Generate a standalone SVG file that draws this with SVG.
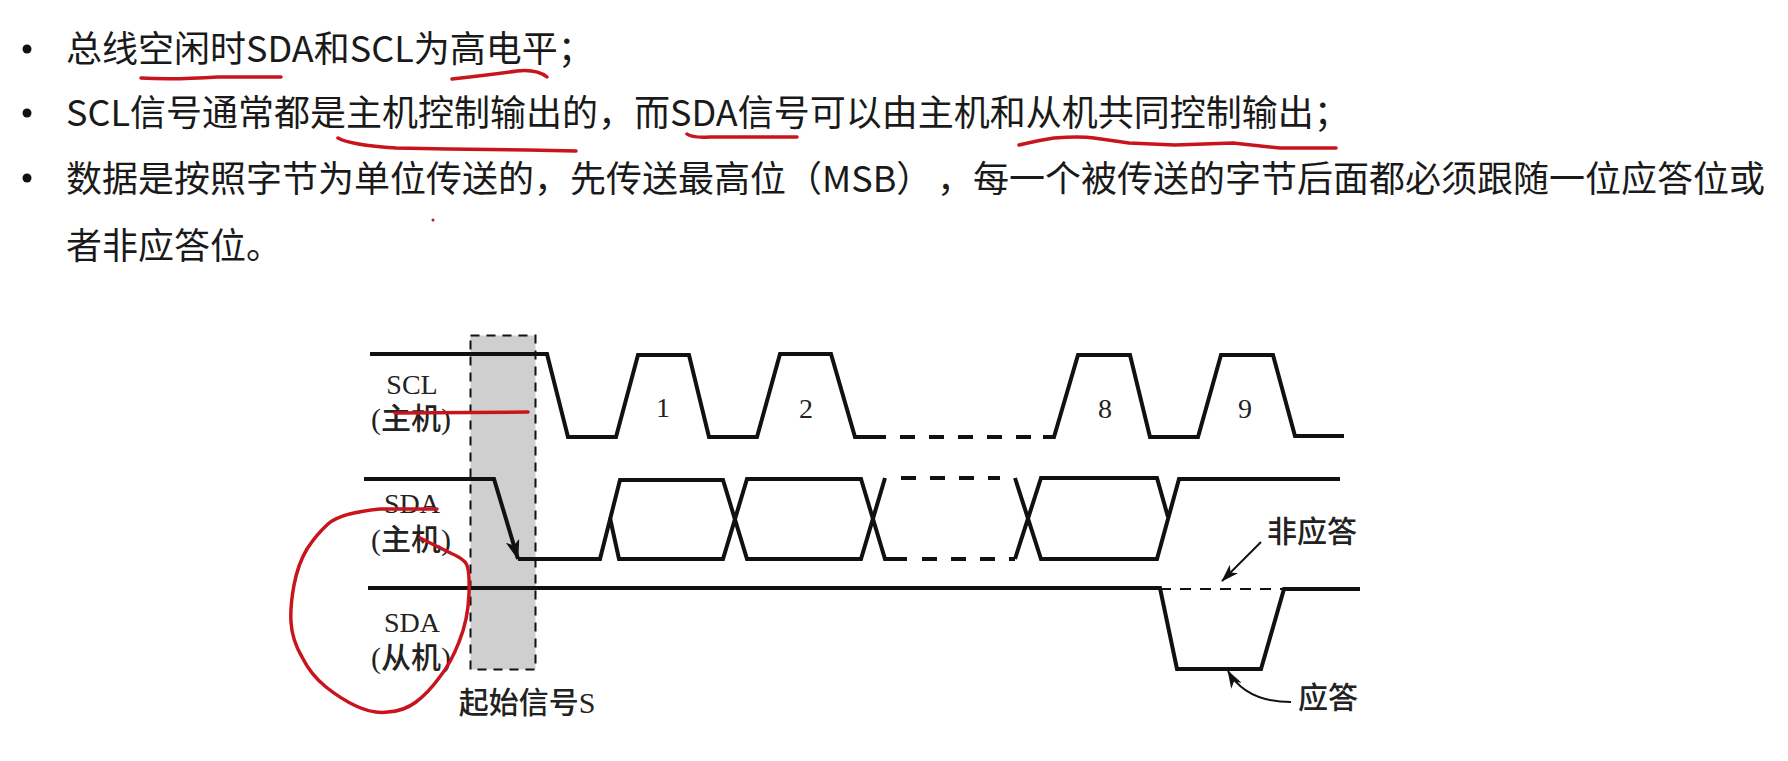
<svg xmlns="http://www.w3.org/2000/svg" width="1788" height="761" viewBox="0 0 1788 761">
<defs>
<marker id="ah" viewBox="0 0 18 12" refX="17" refY="6" markerWidth="18" markerHeight="12" markerUnits="userSpaceOnUse" orient="auto"><path d="M0,0 L18,6 L0,12 L5,6 Z" fill="#111"/></marker>
<marker id="ahb" viewBox="0 0 20 14" refX="19" refY="7" markerWidth="20" markerHeight="14" markerUnits="userSpaceOnUse" orient="auto"><path d="M0,0 L20,7 L0,14 L5,7 Z" fill="#111"/></marker>
</defs>
<style>
.t{font-family:"Noto Sans CJK SC","Noto Sans",sans-serif;font-size:36px;fill:#1a1a1a}
.d{font-family:"Liberation Serif","Noto Sans CJK SC",serif;font-size:28px;fill:#222;text-anchor:middle}
.c{font-family:"Liberation Serif","Noto Sans CJK SC",serif;font-size:30px;font-weight:500;fill:#222;text-anchor:middle}
.s{fill:none;stroke:#111;stroke-width:4;stroke-linejoin:miter}
.dash{fill:none;stroke:#111;stroke-width:4;stroke-dasharray:15 14}
.thin{fill:none;stroke:#111;stroke-width:2}
.r{fill:none;stroke:#c8141c;stroke-width:3.5;stroke-linecap:round;stroke-linejoin:round}
</style>
<rect width="1788" height="761" fill="#fff"/>
<g id="bullets">
<circle cx="27" cy="49" r="4.5" fill="#111"/><circle cx="27" cy="113" r="4.5" fill="#111"/><circle cx="27" cy="178" r="4.5" fill="#111"/>
<text class="t" x="66" y="62">总线空闲时SDA和SCL为高电平；</text>
<text class="t" x="66" y="126">SCL信号通常都是主机控制输出的，而SDA信号可以由主机和从机共同控制输出；</text>
<text class="t" y="192"><tspan x="66">数据是按照字节为单位传送的，先传送最高位（MSB）</tspan><tspan x="937">，</tspan><tspan x="973">每一个被传送的字节后面都必须跟随一位应答位或</tspan></text>
<text class="t" x="66" y="259">者非应答位。</text>
</g>
<g id="start-region"><rect x="470.5" y="335.5" width="65" height="334" fill="#cfcfcf" stroke="#111" stroke-width="2" stroke-dasharray="9 7"/></g>
<g id="connectors">
<path id="scl" class="s" d="M370,354 H547 L568,437 H616 L638,355 H689 L709,437 H757 L780,354 H831 L855,437 H886"/>
<path class="dash" d="M900,437 H1054"/>
<path class="s" d="M1043,437 H1054 L1078,355 H1130 L1150,437 H1198 L1221,355 H1273 L1295,436 H1344"/>
<path id="sda-m-a" class="s" d="M364,479 H494 L518,559" marker-end="url(#ahb)"/>
<path class="s" d="M518,559 H600 L620,480 H723 L747,559 H861 L885,478"/>
<path class="s" d="M610,518 L619,559 H723 L747,479 H861 L885,559 H907"/>
<path class="dash" d="M922,559 H1015" stroke-dasharray="14 15"/>
<path class="dash" d="M901,478 H1000"/>
<path class="s" d="M1015,478 L1041,559 H1157 L1179,479 H1340"/>
<path class="s" d="M1015,559 L1041,478 H1157 L1168,517"/>
<path id="sda-s" class="s" d="M368,588 H1160 L1177,669 H1261 L1284,589 H1360"/>
<path class="thin" stroke-dasharray="11 9" d="M1160,589 H1284"/>
<path class="thin" d="M1261,542 L1222,581" marker-end="url(#ah)"/>
<path class="thin" d="M1291,702 C1260,702 1240,692 1228,671" marker-end="url(#ah)"/>
</g>
<g id="labels">
<text class="d" x="412" y="394">SCL</text><text class="c" x="411" y="429">(主机)</text>
<text class="d" x="412" y="513">SDA</text><text class="c" x="411" y="550">(主机)</text>
<text class="d" x="412" y="632">SDA</text><text class="c" x="411" y="668">(从机)</text>
<text class="d" x="663" y="417">1</text><text class="d" x="806" y="418">2</text><text class="d" x="1105" y="418">8</text><text class="d" x="1245" y="418">9</text>
<text class="c" x="527" y="713">起始信号S</text>
<text class="c" x="1312" y="542">非应答</text>
<text class="c" x="1328" y="708">应答</text>
</g>
<g id="annotations">
<path class="r" d="M141,78 Q172,80 218,77 L281,77"/>
<path class="r" d="M452,79 Q488,75 517,71 Q537,69 547,77"/>
<path class="r" d="M338,138 Q350,145 396,148 L448,149 L528,150 L576,151"/>
<path class="r" d="M687,134 Q692,138 710,137 L797,137"/>
<path class="r" d="M1019,145 Q1040,140 1054,138 Q1080,136 1094,138 L1129,143 L1175,145 L1233,143 L1280,148 L1336,148"/>
<circle cx="433" cy="220" r="1.5" fill="#c8141c"/>
<path class="r" d="M395,413 L528,412"/>
<path class="r" d="M437,509 L380,509 Q340,513 328,524 Q316,535 307,549 Q298,564 294,585 Q290,607 291,622 Q292,640 302,657 Q311,675 326,687 Q341,699 356,706 Q373,714 388,712 Q404,711 416,702 Q428,693 439,678 Q451,663 459,642 Q468,620 469,594 Q470,567 465,562 Q460,557 451.5,553.5 L420,538"/>
</g>
</svg>
